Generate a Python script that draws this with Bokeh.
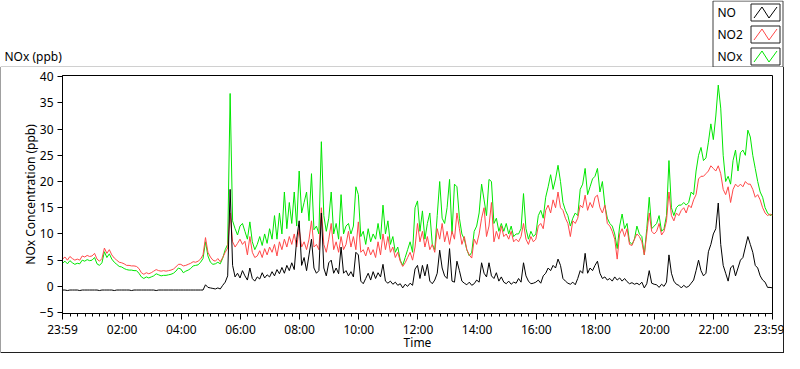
from bokeh.plotting import figure
from bokeh.layouts import column
from bokeh.models import FixedTicker, Range1d
from bokeh.core.properties import value
from bokeh.embed import file_html
from bokeh.resources import INLINE

# ---------------- data ----------------
series_names = ["NO", "NO2", "NOx"]
series_colors = ["#000000", "#ff4848", "#00e600"]
x_tick_labels = ["23:59", "02:00", "04:00", "06:00", "08:00", "10:00", "12:00",
                 "14:00", "16:00", "18:00", "20:00", "22:00", "23:59"]
x_tick_minutes = [0, 121, 241, 361, 481, 601, 721, 841, 961, 1081, 1201, 1321, 1440]
y_ticks = [-5, 0, 5, 10, 15, 20, 25, 30, 35, 40]
graph_caption = "NOx (ppb)"
x_title = "Time"
y_title = "NOx Concentration (ppb)"
step_minutes = 5  # samples every 5 minutes starting at 23:59

no_ppb = [
    -0.7, -0.7, -0.8, -0.7, -0.7, -0.7, -0.7, -0.8, -0.7, -0.7, -0.7, -0.7,
    -0.7, -0.7, -0.7, -0.8, -0.7, -0.7, -0.7, -0.7, -0.7, -0.8, -0.7, -0.7,
    -0.7, -0.7, -0.7, -0.7, -0.8, -0.7, -0.7, -0.7, -0.7, -0.7, -0.7, -0.7,
    -0.7, -0.7, -0.8, -0.7, -0.7, -0.7, -0.7, -0.7, -0.7, -0.7, -0.7, -0.7,
    -0.7, -0.7, -0.7, -0.7, -0.7, -0.7, -0.7, -0.7, -0.7, -0.7, 0.3, -0.2,
    -0.3, -0.4, -0.5, -0.3, -0.5, 0.2, 0.8, 2.0, 18.5, 4.0, 1.8, 2.5,
    1.6, 3.0, 2.0, 1.2, 3.5, 1.5, 1.0, 1.8, 1.4, 2.6, 1.6, 2.2,
    1.8, 2.8, 2.0, 3.2, 2.4, 3.6, 2.5, 4.0, 3.0, 4.5, 3.2, 9.0,
    12.5, 4.0, 5.5, 3.0, 6.0, 9.0, 3.5, 2.5, 3.0, 14.0, 3.5, 2.0,
    4.5, 5.0, 2.5, 3.5, 2.4, 7.5, 2.5, 3.0, 2.0, 2.8, 1.8, 6.5,
    6.0, 1.0, 0.5, 1.5, 2.5, 1.2, 2.8, 1.5, 2.6, 1.8, 4.2, 1.0,
    0.6, 1.0, 0.4, 0.8, 0.2, 0.5, -0.3, 0.4, 0.0, 0.6, 0.2, 3.3,
    4.0, 1.5, 4.0, 2.0, 4.2, 1.0, 0.5, 1.2, 2.5, 6.9, 3.5, 2.0,
    1.5, 7.2, 1.0, 0.8, 4.8, 3.0, 1.0, 0.6, 0.3, 0.8, 0.2, 0.5,
    1.2, 0.8, 4.5, 2.5, 1.8, 4.5, 2.0, 1.5, 2.6, 1.0, 1.8, 0.8,
    0.5, 1.0, 0.4, 0.8, 0.6, 1.5, 0.8, 4.5, 2.0, 1.0, 0.5, 0.6,
    0.8, 1.2, 0.6, 2.0, 2.5, 3.5, 3.0, 4.0, 3.5, 5.2, 4.0, 1.5,
    1.0, 0.6, 0.4, 0.8, 0.3, 1.5, 3.0, 2.5, 6.3, 2.5, 3.5, 3.0,
    4.0, 4.8, 2.5, 1.5, 1.8, 1.2, 1.5, 1.0, 1.8, 1.2, 1.6, 1.0,
    1.5, 0.9, 0.5, 0.7, 0.4, 0.6, 0.3, 0.8, -0.3, 0.5, 3.0, 0.6,
    0.4, 0.3, -0.2, 0.4, 0.0, 0.8, 6.0, 2.5, 1.0, 0.4, 0.2, -0.3,
    0.2, -0.2, 0.0, 0.6, 1.2, 3.0, 5.0, 3.0, 2.0, 2.5, 6.6, 8.0,
    10.0, 11.0, 15.9, 8.0, 4.0, 2.5, 1.0, 3.5, 4.0, 2.0, 3.5, 5.0,
    5.5, 7.5, 9.5, 8.0, 6.5, 4.0, 3.5, 2.0, 1.2, 0.8, -0.2, -0.2, -0.3,
]

no2_ppb = [
    5.2, 5.6, 5.0, 5.7, 5.3, 5.0, 5.2, 5.0, 5.8, 5.6, 5.9, 5.7,
    5.8, 6.3, 5.2, 4.8, 5.3, 7.3, 6.3, 7.0, 6.0, 5.4, 5.0, 4.6,
    4.5, 4.3, 4.0, 4.0, 3.9, 3.9, 3.8, 3.4, 2.6, 2.3, 2.6, 2.4,
    2.6, 2.9, 3.2, 3.0, 2.9, 3.0, 2.9, 3.0, 3.1, 3.3, 3.7, 4.2,
    4.2, 3.9, 4.0, 4.2, 4.4, 4.7, 4.6, 4.8, 5.2, 6.0, 9.3, 6.5,
    5.6, 5.0, 4.8, 5.3, 4.7, 5.5, 6.5, 7.3, 14.0, 8.5, 7.5, 8.2,
    9.0, 8.0, 8.6, 6.0, 9.5, 6.5, 5.5, 5.8, 6.8, 5.5, 7.2, 6.0,
    7.5, 6.5, 8.0, 5.8, 8.5, 7.0, 9.0, 7.5, 9.5, 8.0, 10.0, 7.5,
    11.0, 7.5, 8.5, 7.0, 9.0, 12.5, 7.5, 8.0, 7.0, 15.0, 8.0, 6.5,
    9.0, 12.0, 7.0, 8.5, 6.5, 9.5, 7.0, 8.0, 10.5, 7.5, 9.5, 7.0,
    12.3, 6.5, 7.0, 5.8, 7.5, 6.0, 7.0, 5.5, 8.5, 6.0, 10.0, 7.0,
    9.5, 6.5, 7.5, 5.5, 6.5, 4.8, 3.8, 4.5, 5.5, 6.5, 5.0, 7.5,
    12.0, 8.5, 10.5, 7.5, 9.5, 7.0, 8.0, 6.5, 11.0, 9.0, 12.0, 8.5,
    10.5, 8.0, 10.5, 9.0, 14.0, 11.0, 8.0, 9.5, 7.0, 6.0, 5.4, 9.0,
    8.0, 10.0, 13.0, 15.0, 9.5, 11.5, 16.0, 8.5, 10.5, 9.0, 11.5, 9.5,
    10.0, 9.0, 10.5, 8.5, 9.0, 8.5, 9.5, 12.0, 9.0, 8.0, 9.5, 8.5,
    9.0, 11.5, 12.0, 11.0, 14.5, 15.5, 14.0, 16.5, 15.0, 18.0, 15.0, 14.5,
    13.0, 12.0, 9.5, 12.5, 12.0, 13.0, 15.5, 15.0, 17.4, 14.5, 16.0, 15.0,
    17.0, 17.4, 15.0, 14.0, 15.5, 12.0, 11.5, 10.5, 9.0, 5.2, 10.0, 11.0,
    9.5, 11.0, 8.0, 7.8, 9.0, 10.0, 9.5, 8.5, 6.0, 10.0, 14.0, 10.5,
    10.0, 10.5, 12.0, 9.8, 10.5, 12.5, 18.0, 13.5, 12.5, 14.0, 13.5, 14.5,
    15.0, 14.0, 15.5, 15.0, 16.5, 17.5, 20.5, 21.0, 21.0, 21.5, 22.0, 23.0,
    22.5, 22.0, 23.0, 21.5, 18.5, 17.5, 19.0, 16.0, 18.5, 19.5, 19.0, 19.5,
    19.0, 20.0, 19.5, 19.5, 18.5, 17.0, 17.5, 16.5, 15.0, 14.0, 13.5, 13.8, 13.5,
]

nox_ppb = [
    4.4, 4.8, 4.3, 4.9, 4.5, 4.2, 4.4, 4.3, 5.0, 4.8, 5.1, 4.9,
    5.0, 5.5, 4.3, 4.0, 4.5, 6.6, 5.5, 6.2, 5.2, 4.6, 4.2, 3.8,
    3.7, 3.4, 3.2, 3.1, 3.1, 3.0, 3.0, 2.5, 1.8, 1.5, 1.8, 1.6,
    1.8, 2.0, 2.4, 2.2, 2.0, 2.1, 2.1, 2.2, 2.3, 2.5, 2.9, 3.5,
    3.3, 2.6, 2.9, 3.1, 3.4, 3.9, 4.0, 4.1, 4.6, 5.3, 8.5, 5.8,
    4.6, 4.2, 4.3, 4.6, 4.3, 5.4, 7.0, 8.0, 36.8, 12.5, 11.0, 9.8,
    11.5, 12.0, 10.5, 9.0, 12.3, 8.5, 7.0, 8.0, 9.5, 7.8, 10.0, 8.2,
    11.0, 9.0, 13.5, 9.0, 14.0, 10.0, 18.0, 11.0, 16.0, 12.0, 18.0, 11.5,
    22.0, 14.0, 16.0, 18.0, 12.5, 21.5, 10.8, 11.5, 10.0, 27.6, 13.5, 10.5,
    13.0, 18.0, 10.0, 12.0, 9.0, 17.5, 10.0, 11.5, 12.0, 10.0, 11.5, 19.0,
    17.5, 9.5, 10.5, 8.0, 11.0, 8.5, 10.0, 9.0, 12.0, 9.0, 15.5, 10.0,
    12.5, 8.0, 9.5, 6.5, 7.5, 5.0, 4.0, 5.5, 7.0, 8.5, 6.5, 15.0,
    16.3, 10.5, 14.4, 9.0, 12.0, 14.0, 8.0, 7.0, 13.5, 20.0, 13.0, 12.0,
    15.0, 20.4, 10.0, 19.5, 19.0, 13.0, 10.0, 9.0, 7.0, 5.8, 6.5, 10.5,
    11.5, 14.0, 19.5, 16.5, 13.5, 20.4, 20.0, 12.0, 13.0, 10.5, 12.0, 10.5,
    12.0, 10.0, 11.5, 9.5, 10.0, 10.0, 11.0, 17.7, 11.0, 9.0, 10.5, 9.5,
    10.0, 13.5, 14.5, 13.0, 17.0, 19.0, 21.3, 18.5, 20.5, 23.1, 20.0, 16.0,
    14.5, 13.5, 11.5, 13.0, 14.0, 13.5, 18.5, 19.5, 22.5, 17.5, 19.0, 20.5,
    21.0, 22.5, 18.0, 20.0, 15.5, 13.0, 12.0, 11.5, 10.0, 7.2, 11.5, 13.8,
    11.0, 12.0, 8.5, 8.0, 9.0, 11.5, 10.0, 9.5, 6.0, 11.0, 17.0, 11.0,
    11.5, 12.0, 13.5, 10.5, 11.0, 13.5, 24.0, 15.0, 13.5, 15.0, 15.5, 15.5,
    16.0, 15.5, 16.0, 18.0, 17.5, 22.0, 25.0, 26.5, 24.0, 24.5, 27.5, 31.0,
    28.0, 32.5, 38.4, 34.0, 25.0, 20.0, 21.0, 19.5, 24.0, 26.0, 22.0, 25.5,
    26.0, 25.0, 29.8, 28.5, 25.0, 22.5, 20.0, 18.0, 17.0, 15.0, 14.0, 13.5, 13.8,
]

minutes = [step_minutes * i for i in range(len(no_ppb))]

# ---------------- layout constants (pixels) ----------------
W = 784
TOP_H = 67            # caption + legend strip
MAIN_H = 353 - TOP_H  # graph box
FL, FR = 62, 772      # plot frame left / right
FT, FB = 75, 314      # plot frame top / bottom (page px)
FONT = "Noto Sans"
FS = "12px"

series = {"NO": no_ppb, "NO2": no2_ppb, "NOx": nox_ppb}
colors = dict(zip(series_names, series_colors))

# ---------------- caption + legend strip ----------------
top = figure(width=W, height=TOP_H, output_backend="svg", toolbar_location=None,
             x_range=Range1d(0, W), y_range=Range1d(TOP_H, 0),
             x_axis_type=None, y_axis_type=None,
             min_border=0, min_border_left=0, min_border_right=0,
             min_border_top=0, min_border_bottom=0)
top.frame_align = False
top.xgrid.visible = False
top.ygrid.visible = False
top.outline_line_color = None
top.background_fill_alpha = 0
top.border_fill_alpha = 0

LX0, LX1, LY0, LY1 = 712.5, 782.5, 0.5, 66.5
# top edge of the graph box (hidden under the legend)
top.line(x=[0, LX0], y=[66.5, 66.5], line_color="#a0a0a0", line_width=1)
top.text(x=[4], y=[56], text=[graph_caption], text_font=value(FONT),
         text_font_size=value(FS), text_color="black",
         text_baseline="middle", text_align="left")
top.quad(left=[LX0], right=[LX1], top=[LY0], bottom=[LY1],
         fill_color="white", line_color="#404040", line_width=1)

row_centers = [12.0, 34.0, 56.0]
IX0, IX1 = 750.5, 779.5
top.text(x=[717] * 3, y=row_centers, text=series_names, text_font=value(FONT),
         text_font_size=value(FS), text_color="black",
         text_baseline="middle", text_align="left")
for name, cy in zip(series_names, row_centers):
    t, b = cy - 8.5, cy + 8.5
    top.quad(left=[IX0], right=[IX1], top=[t], bottom=[b],
             fill_color="white", line_color="#202020", line_width=1)
    top.line(x=[IX0 + 3, IX0 + 11, IX0 + 18, IX0 + 26],
             y=[b - 3, t + 3, b - 3, t + 3],
             line_color=colors[name], line_width=1)

# ---------------- main graph ----------------
p = figure(width=W, height=MAIN_H, output_backend="svg", toolbar_location=None,
           x_range=Range1d(0, 1440), y_range=Range1d(-5.18, 40.23),
           min_border_left=FL, min_border_right=W - FR,
           min_border_top=FT - TOP_H, min_border_bottom=353 - FB)
p.frame_align = False
p.xgrid.visible = False
p.ygrid.visible = False
p.background_fill_alpha = 0
p.border_fill_alpha = 0
p.outline_line_color = "black"
p.outline_line_width = 1
p.styles = {"box-shadow": "inset 1px 0 0 #a0a0a0, inset -1px -1px 0 #202020"}

for name in ["NOx", "NO2", "NO"]:
    p.line(minutes, series[name], line_color=colors[name], line_width=1)

xa = p.xaxis[0]
xa.ticker = FixedTicker(ticks=x_tick_minutes,
                        minor_ticks=[1 + 15 * k for k in range(96)])
xa.major_label_overrides = {m: lab for m, lab in zip(x_tick_minutes, x_tick_labels)}
xa.axis_label = x_title
xa.major_tick_out = 6
xa.major_tick_in = 0
xa.minor_tick_out = 3
xa.minor_tick_in = 0
xa.major_label_standoff = 1
xa.axis_label_standoff = -7

ya = p.yaxis[0]
ya.ticker = FixedTicker(ticks=y_ticks, minor_ticks=[])
ya.axis_label = y_title
ya.major_tick_out = 5
ya.major_tick_in = 0
ya.minor_tick_out = 0
ya.minor_tick_in = 0
ya.major_label_standoff = 4
ya.axis_label_standoff = -2

for ax in (xa, ya):
    ax.axis_line_color = "black"
    ax.major_tick_line_color = "black"
    ax.minor_tick_line_color = "black"
    ax.major_label_text_font = FONT
    ax.major_label_text_font_size = FS
    ax.major_label_text_color = "black"
    ax.axis_label_text_font = FONT
    ax.axis_label_text_font_size = FS
    ax.axis_label_text_font_style = "normal"
    ax.axis_label_text_color = "black"

layout = column(top, p, spacing=0)
open("out.html", "w").write(file_html(layout, INLINE))
